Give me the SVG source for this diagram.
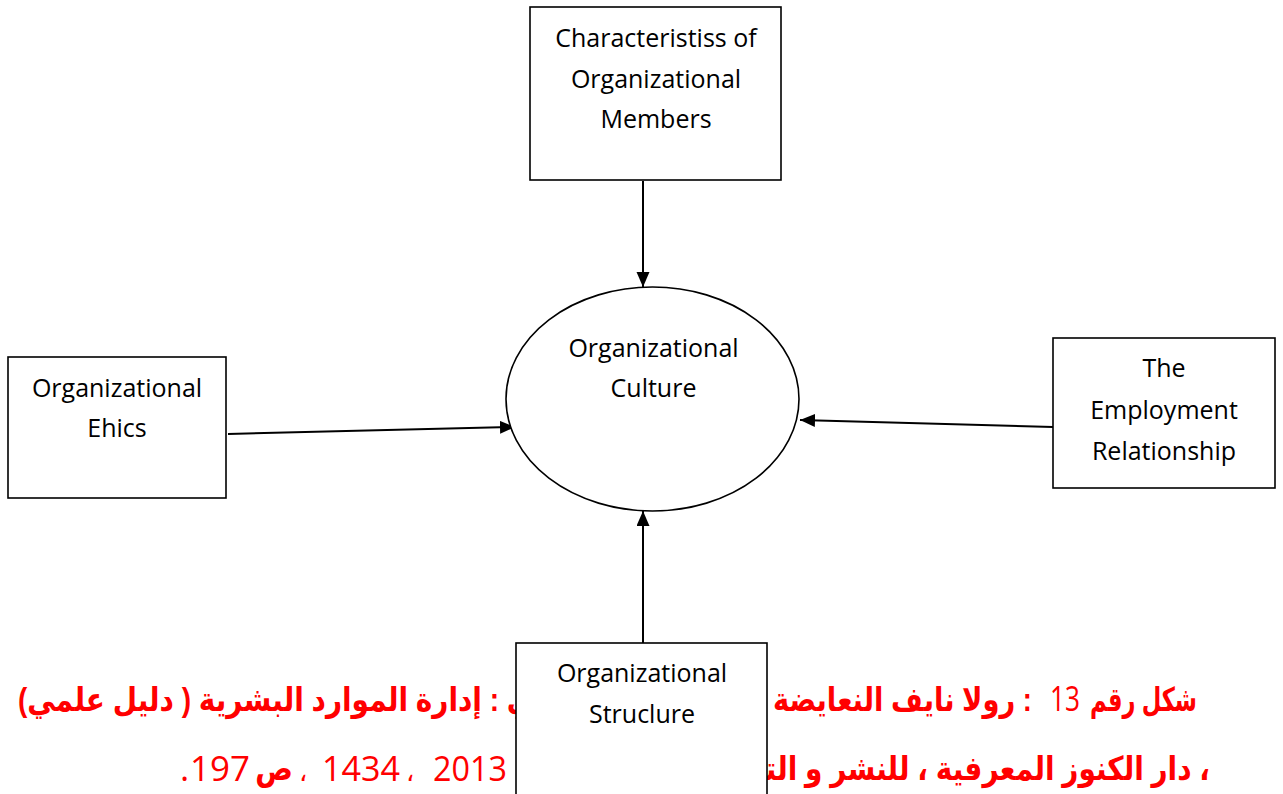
<svg xmlns="http://www.w3.org/2000/svg" width="1283" height="794" viewBox="0 0 1283 794">
  <style>
    .box { fill: #ffffff; stroke: #000000; stroke-width: 1.6; }
    .lbl { font-family: "Open Sans", "Noto Sans", sans-serif; font-size: 25px; fill: #000000; text-anchor: middle; }
    .edge { stroke: #000000; stroke-width: 2; fill: none; marker-end: url(#head); }
    .ar { font-family: "Liberation Sans", "DejaVu Sans", sans-serif; font-size: 28px; font-weight: bold; fill: #ff0000; direction: rtl; }
    .thin { font-family: "DejaVu Sans", sans-serif; font-size: 26px; font-weight: normal; fill: #ff0000; }
    .num { font-family: "Open Sans", "Liberation Sans", sans-serif; font-size: 35px; font-weight: normal; fill: #ff0000; }
  </style>
  <defs>
    <marker id="head" markerUnits="userSpaceOnUse" markerWidth="16" markerHeight="14" refX="15" refY="6.5" orient="auto">
      <path d="M0,0 L15,6.5 L0,13 Z" fill="#000000"/>
    </marker>
  </defs>

  <rect width="1283" height="794" fill="#ffffff"/>

  <!-- caption, first line (middle part sits behind the lower box) -->
  <g id="caption">
    <g transform="translate(0,711) scale(1,1.18) translate(0,-711)">
      <text class="ar" x="1197" y="711" text-anchor="start" textLength="107" lengthAdjust="spacingAndGlyphs">شكل رقم</text>
      <text class="ar" x="1032" y="711" text-anchor="start" textLength="259" lengthAdjust="spacingAndGlyphs">: رولا نايف النعايضة</text>
      <text class="ar" x="18" y="711" text-anchor="end">ري : إدارة الموارد البشرية ( دليل علمي)</text>
    </g>
    <text class="num" x="1050" y="711" textLength="30" lengthAdjust="spacingAndGlyphs">13</text>

    <!-- caption, second line -->
    <g transform="translate(0,780) scale(1,1.18) translate(0,-780)">
      <text class="ar" x="1210" y="780" text-anchor="start">، دار الكنوز المعرفية ، للنشر و التو</text>
      <text class="ar" x="293" y="780" text-anchor="start">ص</text>
    </g>
    <text class="num" x="433" y="781" textLength="74" lengthAdjust="spacingAndGlyphs">2013</text>
    <text class="thin" x="406" y="781">،</text>
    <text class="num" x="322" y="781" textLength="78" lengthAdjust="spacingAndGlyphs">1434</text>
    <text class="thin" x="299" y="781">،</text>
    <text class="num" x="190" y="781" textLength="60" lengthAdjust="spacingAndGlyphs">197</text>
    <text class="num" x="180" y="781">.</text>
  </g>

  <!-- connectors -->
  <g id="connectors">
    <line class="edge" x1="643" y1="181" x2="643" y2="287"/>
    <line class="edge" x1="228" y1="434" x2="515" y2="427"/>
    <line class="edge" x1="1053" y1="427" x2="800" y2="420"/>
    <line class="edge" x1="643" y1="643" x2="643" y2="511"/>
  </g>

  <g id="members">
    <rect class="box" x="530" y="7" width="251" height="173"/>
    <text class="lbl" x="656" y="47">Characteristiss of</text>
    <text class="lbl" x="656" y="88">Organizational</text>
    <text class="lbl" x="656" y="128">Members</text>
  </g>

  <g id="culture">
    <ellipse class="box" cx="652.5" cy="399" rx="146.5" ry="112"/>
    <text class="lbl" x="653.5" y="357">Organizational</text>
    <text class="lbl" x="653.5" y="397">Culture</text>
  </g>

  <g id="ethics">
    <rect class="box" x="8" y="357" width="218" height="141"/>
    <text class="lbl" x="117" y="397">Organizational</text>
    <text class="lbl" x="117" y="437">Ehics</text>
  </g>

  <g id="employment">
    <rect class="box" x="1053" y="338" width="222" height="150"/>
    <text class="lbl" x="1164" y="377">The</text>
    <text class="lbl" x="1164" y="419">Employment</text>
    <text class="lbl" x="1164" y="460">Relationship</text>
  </g>

  <g id="structure">
    <rect class="box" x="516" y="643" width="251" height="160"/>
    <text class="lbl" x="642" y="682">Organizational</text>
    <text class="lbl" x="642" y="723">Struclure</text>
  </g>
</svg>
